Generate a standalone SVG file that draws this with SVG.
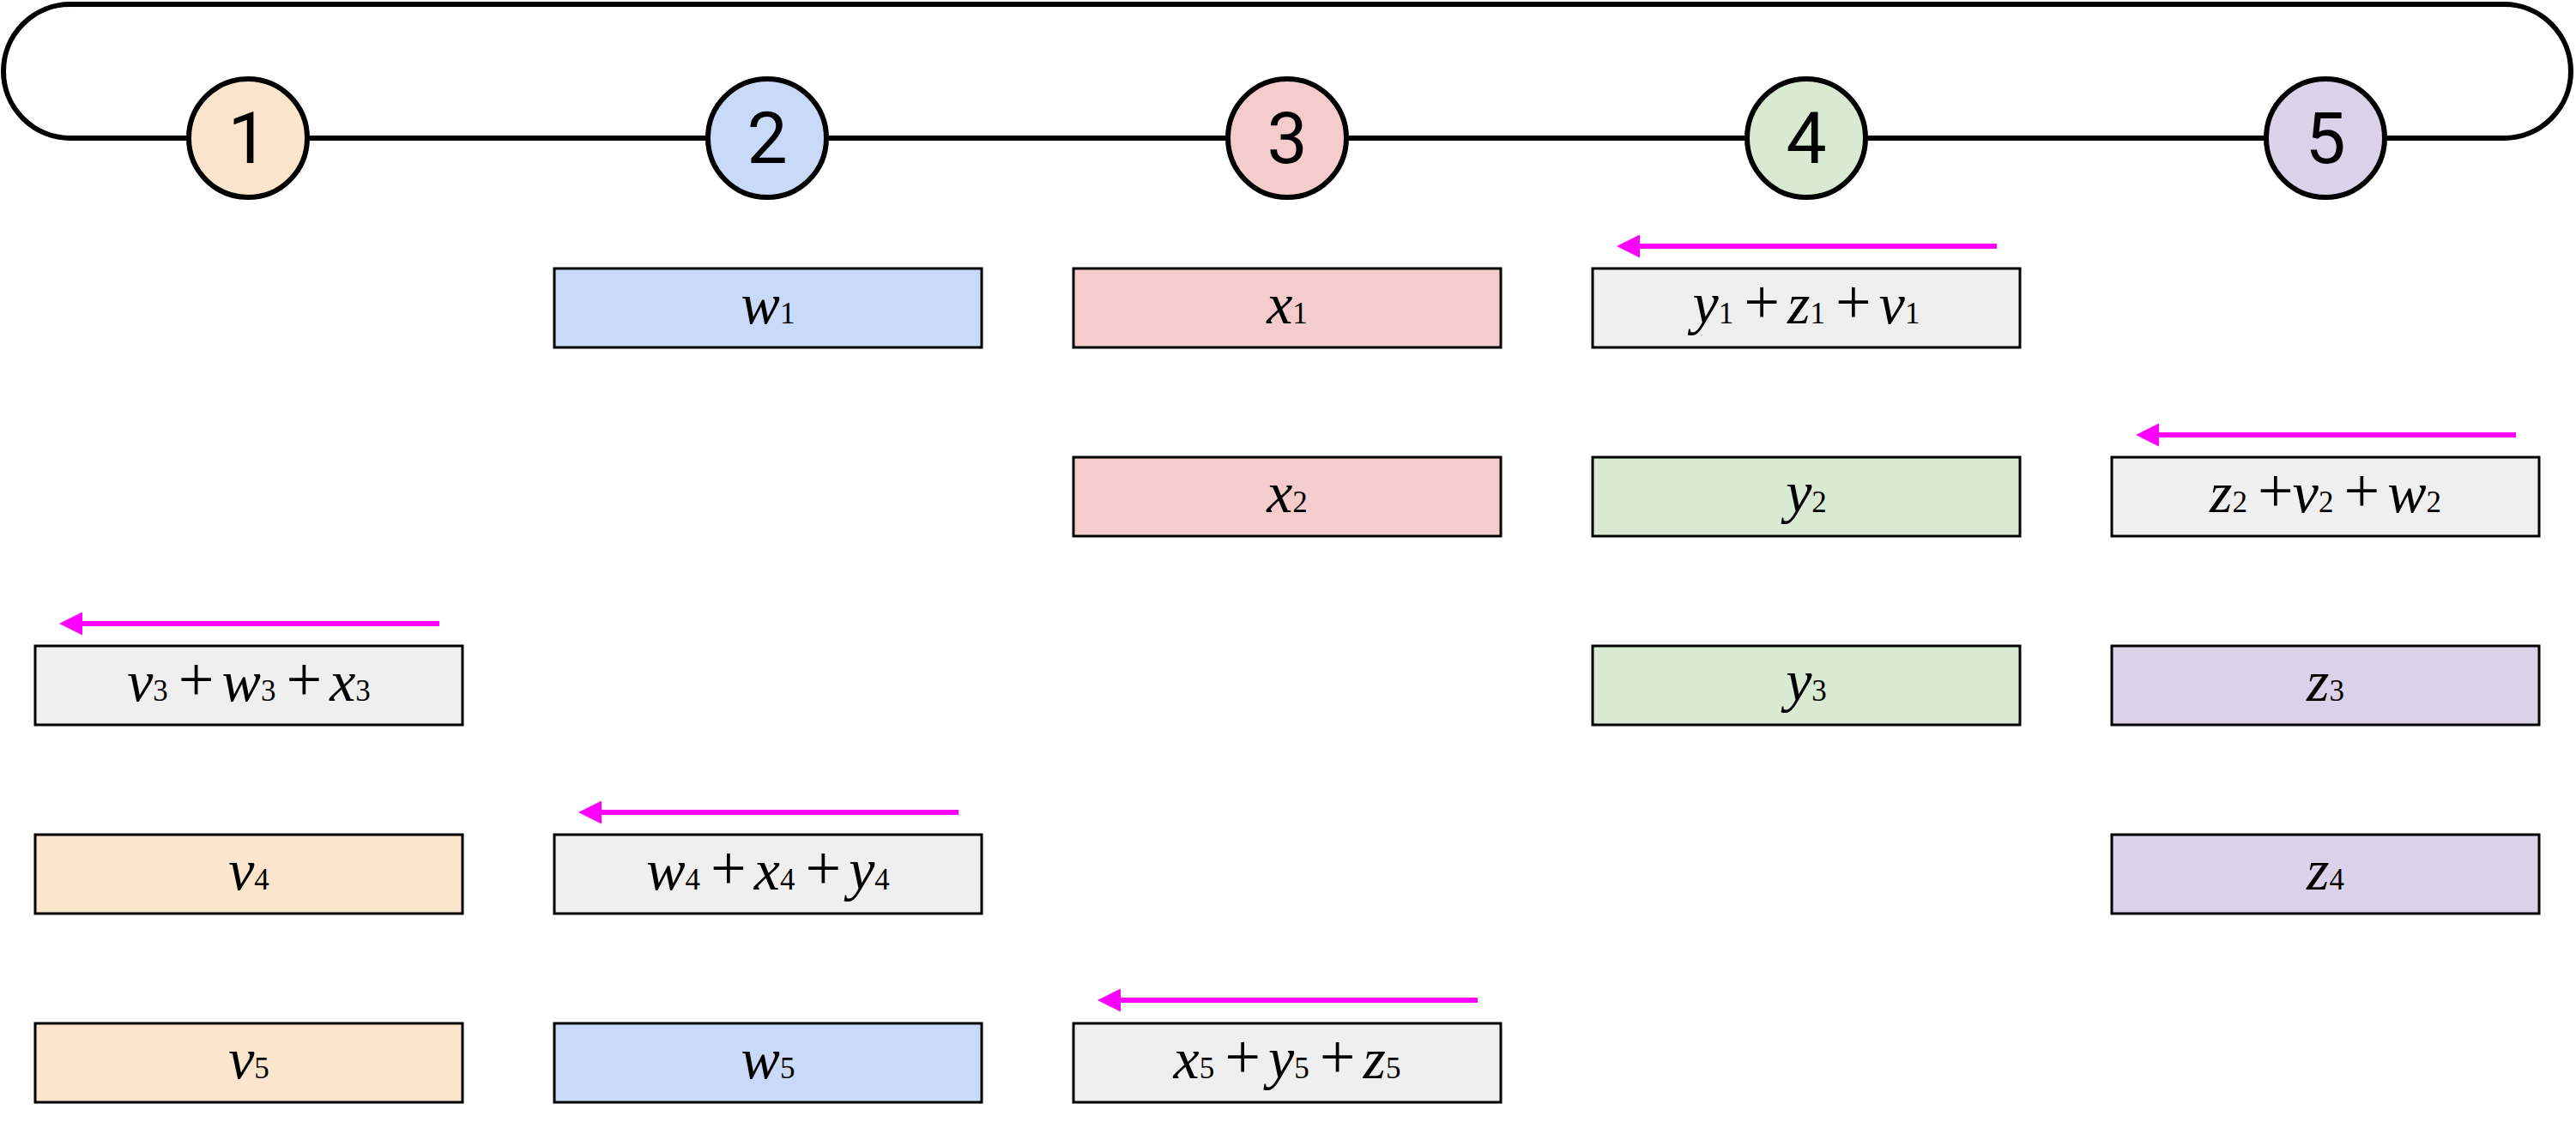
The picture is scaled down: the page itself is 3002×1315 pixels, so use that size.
<svg xmlns="http://www.w3.org/2000/svg" width="3002" height="1315" viewBox="0 0 3002 1315">
<style>
.bg{fill:#ffffff}
.ring{fill:none;stroke:#000;stroke-width:6}
.circ{stroke:#000;stroke-width:6}
.num{font-family:Roboto,"Liberation Sans",sans-serif;font-size:84px;fill:#000;text-anchor:middle}
.box{stroke:#000;stroke-width:3}
.lbl{font-family:"Liberation Serif","Times New Roman",serif;font-size:68px;fill:#000;text-anchor:middle}
.v{font-style:italic}
.s{font-size:35px}
.p{font-size:74px}
.arr{stroke:#ff00ff;stroke-width:6;fill:none}
.c1{fill:#fce5cd}.c2{fill:#c9daf8}.c3{fill:#f4cccc}.c4{fill:#d9ead3}.c5{fill:#d9d2e9}.cg{fill:#efefef}
</style>
<defs>
<marker id="ah" viewBox="0 0 27 27" markerWidth="27" markerHeight="27" refX="0" refY="13.5" orient="auto" markerUnits="userSpaceOnUse">
<path d="M0,0 L27,13.5 L0,27 Z" fill="#ff00ff"/>
</marker>
</defs>
<rect class="bg" x="0" y="0" width="3002" height="1315"/>
<g id="connectors">
<path class="ring" d="M82,5 H2918 A78,78 0 0 1 2918,161 H82 A78,78 0 0 1 82,5 Z"/>
<line class="arr" x1="2327" y1="287" x2="1911" y2="287" marker-end="url(#ah)"/>
<line class="arr" x1="2932" y1="507" x2="2516" y2="507" marker-end="url(#ah)"/>
<line class="arr" x1="512" y1="727" x2="96" y2="727" marker-end="url(#ah)"/>
<line class="arr" x1="1117" y1="947" x2="701" y2="947" marker-end="url(#ah)"/>
<line class="arr" x1="1722" y1="1166" x2="1306" y2="1166" marker-end="url(#ah)"/>
</g>
<g id="node-1"><circle class="circ c1" cx="289" cy="161" r="69"/><text class="num" x="289" y="190">1</text></g>
<g id="node-2"><circle class="circ c2" cx="894" cy="161" r="69"/><text class="num" x="894" y="190">2</text></g>
<g id="node-3"><circle class="circ c3" cx="1500" cy="161" r="69"/><text class="num" x="1500" y="190">3</text></g>
<g id="node-4"><circle class="circ c4" cx="2105" cy="161" r="69"/><text class="num" x="2105" y="190">4</text></g>
<g id="node-5"><circle class="circ c5" cx="2710" cy="161" r="69"/><text class="num" x="2710" y="190">5</text></g>

<g id="box-w1"><rect class="box c2" x="646" y="313" width="498" height="92"/><text class="lbl" x="895" y="377"><tspan class="v">w</tspan><tspan class="s">1</tspan></text></g>
<g id="box-x1"><rect class="box c3" x="1251" y="313" width="498" height="92"/><text class="lbl" x="1500" y="377"><tspan class="v">x</tspan><tspan class="s">1</tspan></text></g>
<g id="box-y1z1v1"><rect class="box cg" x="1856" y="313" width="498" height="92"/><text class="lbl" x="2105" y="377"><tspan class="v">y</tspan><tspan class="s">1</tspan><tspan class="p" dx="12">+</tspan><tspan class="v" dx="9">z</tspan><tspan class="s">1</tspan><tspan class="p" dx="12">+</tspan><tspan class="v" dx="9">v</tspan><tspan class="s">1</tspan></text></g>

<g id="box-x2"><rect class="box c3" x="1251" y="533" width="498" height="92"/><text class="lbl" x="1500" y="597"><tspan class="v">x</tspan><tspan class="s">2</tspan></text></g>
<g id="box-y2"><rect class="box c4" x="1856" y="533" width="498" height="92"/><text class="lbl" x="2105" y="597"><tspan class="v">y</tspan><tspan class="s">2</tspan></text></g>
<g id="box-z2v2w2"><rect class="box cg" x="2461" y="533" width="498" height="92"/><text class="lbl" x="2710" y="597"><tspan class="v">z</tspan><tspan class="s">2</tspan><tspan class="p" dx="12">+</tspan><tspan class="v" dx="-1">v</tspan><tspan class="s">2</tspan><tspan class="p" dx="12">+</tspan><tspan class="v" dx="9">w</tspan><tspan class="s">2</tspan></text></g>

<g id="box-v3w3x3"><rect class="box cg" x="41" y="753" width="498" height="92"/><text class="lbl" x="290" y="817"><tspan class="v">v</tspan><tspan class="s">3</tspan><tspan class="p" dx="12">+</tspan><tspan class="v" dx="9">w</tspan><tspan class="s">3</tspan><tspan class="p" dx="12">+</tspan><tspan class="v" dx="9">x</tspan><tspan class="s">3</tspan></text></g>
<g id="box-y3"><rect class="box c4" x="1856" y="753" width="498" height="92"/><text class="lbl" x="2105" y="817"><tspan class="v">y</tspan><tspan class="s">3</tspan></text></g>
<g id="box-z3"><rect class="box c5" x="2461" y="753" width="498" height="92"/><text class="lbl" x="2710" y="817"><tspan class="v">z</tspan><tspan class="s">3</tspan></text></g>

<g id="box-v4"><rect class="box c1" x="41" y="973" width="498" height="92"/><text class="lbl" x="290" y="1037"><tspan class="v">v</tspan><tspan class="s">4</tspan></text></g>
<g id="box-w4x4y4"><rect class="box cg" x="646" y="973" width="498" height="92"/><text class="lbl" x="895" y="1037"><tspan class="v">w</tspan><tspan class="s">4</tspan><tspan class="p" dx="12">+</tspan><tspan class="v" dx="9">x</tspan><tspan class="s">4</tspan><tspan class="p" dx="12">+</tspan><tspan class="v" dx="9">y</tspan><tspan class="s">4</tspan></text></g>
<g id="box-z4"><rect class="box c5" x="2461" y="973" width="498" height="92"/><text class="lbl" x="2710" y="1037"><tspan class="v">z</tspan><tspan class="s">4</tspan></text></g>

<g id="box-v5"><rect class="box c1" x="41" y="1193" width="498" height="92"/><text class="lbl" x="290" y="1257"><tspan class="v">v</tspan><tspan class="s">5</tspan></text></g>
<g id="box-w5"><rect class="box c2" x="646" y="1193" width="498" height="92"/><text class="lbl" x="895" y="1257"><tspan class="v">w</tspan><tspan class="s">5</tspan></text></g>
<g id="box-x5y5z5"><rect class="box cg" x="1251" y="1193" width="498" height="92"/><text class="lbl" x="1500" y="1257"><tspan class="v">x</tspan><tspan class="s">5</tspan><tspan class="p" dx="12">+</tspan><tspan class="v" dx="9">y</tspan><tspan class="s">5</tspan><tspan class="p" dx="12">+</tspan><tspan class="v" dx="9">z</tspan><tspan class="s">5</tspan></text></g>
</svg>
